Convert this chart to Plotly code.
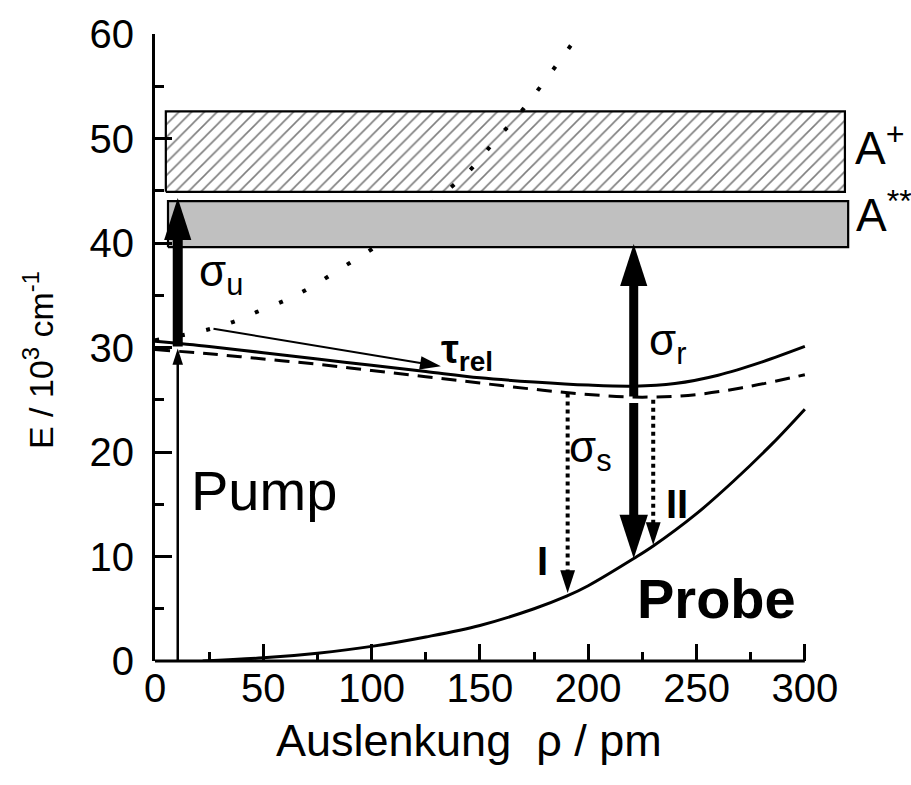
import math
import plotly.graph_objects as go

# Potential curves: displacement rho (pm) vs energy (10^3 cm^-1)
ground_x = [22, 50, 75, 100, 125, 150, 175, 190, 200, 221, 230, 250, 267, 285, 300]
ground_e = [0.0, 0.3, 0.75, 1.4, 2.3, 3.4, 5.0, 6.2, 7.2, 9.8, 11.0, 14.1, 17.2, 20.8, 24.1]

excited_x = [0, 25, 50, 75, 100, 125, 150, 175, 200, 221, 240, 260, 280, 300]
excited_e = [30.6, 30.1, 29.5, 28.9, 28.3, 27.7, 27.1, 26.7, 26.4, 26.3, 26.55, 27.35, 28.6, 30.1]

relaxed_x = [0, 25, 50, 75, 100, 125, 150, 175, 200, 225, 250, 275, 300]
relaxed_e = [29.8, 29.4, 28.9, 28.4, 27.8, 27.2, 26.6, 26.0, 25.5, 25.25, 25.5, 26.3, 27.4]

upper_x = [0, 20, 34, 47, 61, 73, 86, 100, 133, 146, 157, 168, 193]
upper_e = [30.7, 31.5, 32.3, 33.4, 34.6, 35.9, 37.6, 39.4, 44.7, 47.1, 49.8, 52.3, 59.2]

# Ion continuum A+ and doubly excited band A**
ion_band_x = [5, 318.5]
ion_band_e = [44.9, 52.6]
ex_band_x = [6, 320]
ex_band_e = [39.6, 44.0]

# Transitions (x position, start energy, end energy)
pump_x = 10.5
pump_e = [0.0, 29.9]
sigma_u_e = [30.1, 44.3]
probe_x = 221
sigma_r_e = [25.3, 39.9]
sigma_s_e = [24.7, 9.8]
path_I_x = 190.5
path_I_e = [25.6, 6.5]
path_II_x = 230
path_II_e = [25.0, 11.1]
relax_x = [27, 132]
relax_e = [31.8, 28.2]

x_ticks = [0, 50, 100, 150, 200, 250, 300]
x_minor = [25, 75, 125, 175, 225, 275]

W, H = 911, 785
M = dict(l=155, r=52, t=27, b=124)
X_RANGE = [0, 325]
Y_RANGE = [0, 60]
px_x = (W - M["l"] - M["r"]) / (X_RANGE[1] - X_RANGE[0])
px_y = (H - M["t"] - M["b"]) / (Y_RANGE[1] - Y_RANGE[0])

FONT = "Liberation Sans, Arial, sans-serif"

fig = go.Figure()


def band(xs, es, **kw):
    x0, x1 = xs
    e0, e1 = es
    return go.Scatter(x=[x0, x1, x1, x0, x0], y=[e0, e0, e1, e1, e0],
                      mode="lines", fill="toself",
                      line=dict(color="black", width=2.2),
                      hoverinfo="skip", **kw)


def add_arrow(xs, es, width, head, dash="solid"):
    x0, x1 = xs
    y0, y1 = es
    dxp = (x1 - x0) * px_x
    dyp = -(y1 - y0) * px_y
    L = math.hypot(dxp, dyp)
    ux, uy = dxp / L, dyp / L
    back = 0.95 * head * 0.85
    xe = x1 - ux * back / px_x
    ye = y1 + uy * back / px_y
    fig.add_trace(go.Scatter(x=[x0, xe], y=[y0, ye], mode="lines",
                             line=dict(color="black", width=width, dash=dash),
                             hoverinfo="skip", cliponaxis=False))
    angle = math.degrees(math.atan2(ux, -uy))
    fig.add_trace(go.Scatter(x=[x1], y=[y1], mode="markers",
                             marker=dict(symbol="arrow", size=head, angle=angle,
                                         color="black", line=dict(width=0)),
                             hoverinfo="skip", cliponaxis=False))


# curves
fig.add_trace(go.Scatter(x=upper_x, y=upper_e, mode="lines", line_shape="spline",
                         line=dict(color="black", width=4, dash="4px,22px")))
fig.add_trace(band(ion_band_x, ion_band_e, fillcolor="rgba(0,0,0,0)",
                   fillpattern=dict(shape="/", size=9, solidity=0.18,
                                    fgcolor="black", bgcolor="rgba(0,0,0,0)")))
fig.add_trace(band(ex_band_x, ex_band_e, fillcolor="#c0c0c0"))
fig.add_trace(go.Scatter(x=ground_x, y=ground_e, mode="lines", line_shape="spline",
                         line=dict(color="black", width=3)))
fig.add_trace(go.Scatter(x=excited_x, y=excited_e, mode="lines", line_shape="spline",
                         line=dict(color="black", width=3)))
fig.add_trace(go.Scatter(x=relaxed_x, y=relaxed_e, mode="lines", line_shape="spline",
                         line=dict(color="black", width=3, dash="15px,9px")))

# transitions
add_arrow([pump_x, pump_x], pump_e, 2.5, 17)
add_arrow([pump_x, pump_x], sigma_u_e, 10, 44)
add_arrow([probe_x, probe_x], sigma_r_e, 9, 44)
add_arrow([probe_x, probe_x], sigma_s_e, 9, 46)
add_arrow([path_I_x, path_I_x], path_I_e, 4, 24, dash="4px,4px")
add_arrow([path_II_x, path_II_x], path_II_e, 4, 24, dash="4px,4px")
add_arrow(relax_x, relax_e, 2, 22)

# x axis line (ends at 300)
fig.add_shape(type="line", xref="paper", yref="paper",
              x0=0, x1=(300 - X_RANGE[0]) / (X_RANGE[1] - X_RANGE[0]), y0=0, y1=0,
              line=dict(color="black", width=3))


def label(x, y, text, size, bold=False, xanchor="left", yanchor="middle"):
    if bold:
        text = "<b>" + text + "</b>"
    fig.add_annotation(x=x, y=y, xref="x", yref="y", text=text, showarrow=False,
                       xanchor=xanchor, yanchor=yanchor,
                       font=dict(family=FONT, size=size, color="black"))


label(19.5, 37.0, "σ<sub>u</sub>", 44)
label(227, 30.4, "σ<sub>r</sub>", 44)
label(190, 20.2, "σ<sub>s</sub>", 44)
label(131, 29.6, "τ<sub>rel</sub>", 40, bold=True)
label(50.5, 16.3, "Pump", 56, xanchor="center")
label(259, 6.0, "Probe", 56, bold=True, xanchor="center")
label(179, 9.6, "I", 40, bold=True, xanchor="center")
label(241, 15.0, "II", 40, bold=True, xanchor="center")
label(322, 49.4, "A<sup>+</sup>", 46)
label(322.5, 43.0, "A<sup>**</sup>", 46)

# axis titles
fig.add_annotation(x=145, y=0, xref="x", yref="paper", yanchor="top", yshift=-52,
                   text="Auslenkung  ρ / pm", showarrow=False,
                   font=dict(family=FONT, size=45, color="black"))
fig.add_annotation(x=0, y=0.48, xref="paper", yref="paper", xshift=-117,
                   xanchor="center", yanchor="middle",
                   textangle=-90, text="E / 10<sup>3</sup> cm<sup>-1</sup>",
                   showarrow=False, font=dict(family=FONT, size=34, color="black"))

fig.update_layout(
    width=W, height=H, margin=M,
    paper_bgcolor="white", plot_bgcolor="white",
    showlegend=False,
    font=dict(family=FONT, color="black"),
    xaxis=dict(range=X_RANGE, showgrid=False, zeroline=False, showline=False,
               tickmode="array", tickvals=x_ticks, ticks="inside", ticklen=17,
               tickwidth=2.5, tickcolor="black", tickfont=dict(size=40),
               minor=dict(tickmode="array", tickvals=x_minor, ticks="inside",
                          ticklen=9, tickwidth=2.5, tickcolor="black")),
    yaxis=dict(range=Y_RANGE, showgrid=False, zeroline=False, showline=True,
               linecolor="black", linewidth=3, dtick=10, ticks="inside",
               ticklen=17, tickwidth=2.5, tickcolor="black", tickfont=dict(size=40),
               ticklabelstandoff=10,
               minor=dict(dtick=5, ticks="inside", ticklen=9, tickwidth=2.5,
                          tickcolor="black")),
)

fig.write_html("out.html")
